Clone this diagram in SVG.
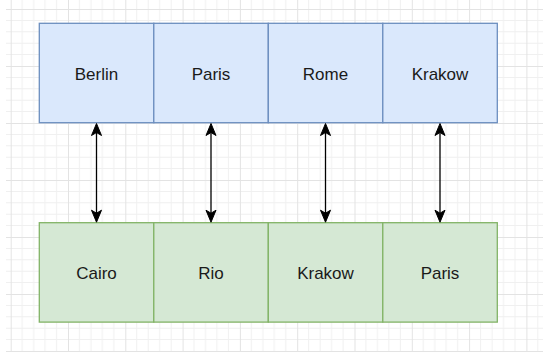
<svg xmlns="http://www.w3.org/2000/svg" width="543" height="352" viewBox="0 0 543 352">
<style>
.top{fill:#dae8fc;stroke:#6c8ebf;stroke-width:1.3}
.bot{fill:#d5e8d4;stroke:#82b366;stroke-width:1.3}
.lbl{font-family:"Liberation Sans",Arial,sans-serif;font-size:17px;fill:#1a1a1a;text-anchor:middle}
.conn line{stroke:#000;stroke-width:1.3}
.conn path{fill:#000;stroke:#000;stroke-width:1}
.mn{stroke:#f0f0f0;stroke-width:1}
.mj{stroke:#e3e3e3;stroke-width:1}
</style>
<defs>
<pattern id="grid" patternUnits="userSpaceOnUse" x="10.7" y="9" width="57.3" height="57">
<path class="mn" d="M11.46 0V57M22.92 0V57M34.38 0V57M45.84 0V57M0 11.4H57.3M0 22.8H57.3M0 34.2H57.3M0 45.6H57.3" fill="none"/>
<path class="mj" d="M0.5 0V57M0 0.5H57.3" fill="none"/>
</pattern>
</defs>
<rect width="543" height="352" fill="#fff"/>
<rect x="6" y="0" width="537" height="352" fill="url(#grid)"/>
<g id="n-berlin"><rect class="top" x="39.3" y="23.3" width="114.5" height="99.4"/><text class="lbl" x="96.5" y="80">Berlin</text></g>
<g id="n-paris1"><rect class="top" x="153.8" y="23.3" width="114.5" height="99.4"/><text class="lbl" x="211" y="80">Paris</text></g>
<g id="n-rome"><rect class="top" x="268.3" y="23.3" width="114.5" height="99.4"/><text class="lbl" x="325.5" y="80">Rome</text></g>
<g id="n-krakow1"><rect class="top" x="382.8" y="23.3" width="114.5" height="99.4"/><text class="lbl" x="440" y="80">Krakow</text></g>
<g id="n-cairo"><rect class="bot" x="39.3" y="222.7" width="114.5" height="99.4"/><text class="lbl" x="96.5" y="279">Cairo</text></g>
<g id="n-rio"><rect class="bot" x="153.8" y="222.7" width="114.5" height="99.4"/><text class="lbl" x="211" y="279">Rio</text></g>
<g id="n-krakow2"><rect class="bot" x="268.3" y="222.7" width="114.5" height="99.4"/><text class="lbl" x="325.5" y="279">Krakow</text></g>
<g id="n-paris2"><rect class="bot" x="382.8" y="222.7" width="114.5" height="99.4"/><text class="lbl" x="440" y="279">Paris</text></g>
<g id="connectors" class="conn">
<g><line x1="96.5" y1="130" x2="96.5" y2="216"/><path d="M96.5 123.5L101.5 135.5L96.5 132.5L91.5 135.5Z"/><path d="M96.5 222.2L101.5 210.2L96.5 213.2L91.5 210.2Z"/></g>
<g><line x1="211" y1="130" x2="211" y2="216"/><path d="M211 123.5L216 135.5L211 132.5L206 135.5Z"/><path d="M211 222.2L216 210.2L211 213.2L206 210.2Z"/></g>
<g><line x1="325.5" y1="130" x2="325.5" y2="216"/><path d="M325.5 123.5L330.5 135.5L325.5 132.5L320.5 135.5Z"/><path d="M325.5 222.2L330.5 210.2L325.5 213.2L320.5 210.2Z"/></g>
<g><line x1="440" y1="130" x2="440" y2="216"/><path d="M440 123.5L445 135.5L440 132.5L435 135.5Z"/><path d="M440 222.2L445 210.2L440 213.2L435 210.2Z"/></g>
</g>
</svg>
